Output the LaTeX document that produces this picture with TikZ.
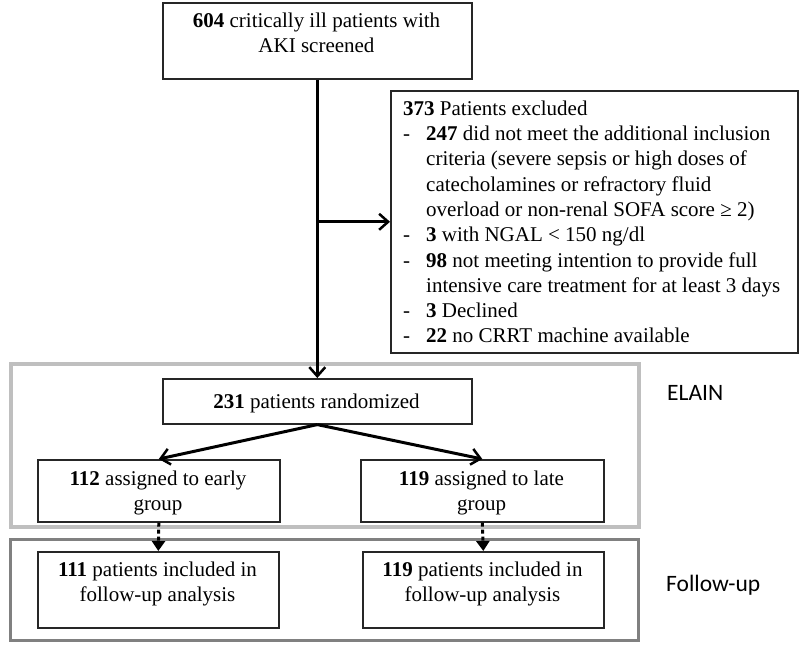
\documentclass[tikz,border=0pt]{standalone}
\usepackage{fontspec}
\setmainfont{Liberation Serif}
\newfontfamily\labelfont{Carlito}
\usetikzlibrary{arrows.meta}
\begin{document}
\begin{tikzpicture}[x=1pt,y=-1pt,
  box/.style={draw=black!85, line width=1.6pt, inner sep=0pt, anchor=north west},
  txt/.style={font=\fontsize{21}{25.2}\selectfont, align=center, inner sep=0pt, anchor=north},
  ltxt/.style={font=\fontsize{21}{25.3}\selectfont, align=left, inner sep=0pt, anchor=north west},
  lab/.style={font=\labelfont\fontsize{23.5}{28}\selectfont, inner sep=0pt, anchor=base west},
  grpA/.style={draw=black!25, line width=4pt, inner sep=0pt, anchor=north west},
  grpB/.style={draw=black!50, line width=3pt, inner sep=0pt, anchor=north west},
  flow/.style={line width=3pt, -{Straight Barb[length=9pt,width=16pt,line width=2.5pt]}},
  dflow/.style={line width=3pt, dash pattern=on 4pt off 3pt, -{Triangle[length=10pt,width=13pt]}}
]
\useasboundingbox[fill=white] (0,0) rectangle (800,650);

% group frames
\node[grpA, minimum width=628pt, minimum height=163pt] (elain) at (9,362) {};
\node[grpB, minimum width=628pt, minimum height=101pt] (follow) at (9,538) {};

% boxes
\node[box, minimum width=309pt, minimum height=76pt] (screen) at (162,2) {};
\node[box, minimum width=407pt, minimum height=262pt] (excl) at (390,90) {};
\node[box, minimum width=309pt, minimum height=45pt] (rand) at (162,378) {};
\node[box, minimum width=242pt, minimum height=62pt] (early) at (37,459) {};
\node[box, minimum width=243pt, minimum height=62pt] (late) at (360,459) {};
\node[box, minimum width=241pt, minimum height=76pt] (fearly) at (37,551) {};
\node[box, minimum width=241pt, minimum height=76pt] (flate) at (362,551) {};

% texts
\node[txt] (tscreen) at (316.5,12.5) {\textbf{604} critically ill patients with\\AKI screened};
\node[txt, anchor=base] (trand) at (316.5,408) {\textbf{231} patients randomized};
\node[txt] (tearly) at (158,470.5) {\textbf{112} assigned to early\\group};
\node[txt] (tlate) at (481.5,470.5) {\textbf{119} assigned to late\\group};
\node[txt] (tfearly) at (157.5,561.5) {\textbf{111} patients included in\\follow-up analysis};
\node[txt] (tflate) at (482.5,561.5) {\textbf{119} patients included in\\follow-up analysis};
\node[ltxt] (texcl) at (403,100.5) {%
\textbf{373} Patients excluded\\
\makebox[23pt][l]{-}\textbf{247} did not meet the additional inclusion\\
\hspace*{23pt}criteria (severe sepsis or high doses of\\
\hspace*{23pt}catecholamines or refractory fluid\\
\hspace*{23pt}overload or non-renal SOFA score ≥ 2)\\
\makebox[23pt][l]{-}\textbf{3} with NGAL < 150 ng/dl\\
\makebox[23pt][l]{-}\textbf{98} not meeting intention to provide full\\
\hspace*{23pt}intensive care treatment for at least 3 days\\
\makebox[23pt][l]{-}\textbf{3} Declined\\
\makebox[23pt][l]{-}\textbf{22} no CRRT machine available};

\node[lab] (lelain) at (667,400) {ELAIN};
\node[lab] (lfollow) at (666,591) {Follow-up};

% connectors
\draw[flow] (screen.south) -- (rand.north);
\coordinate (branch) at (screen.south |- excl.west);
\draw[flow] (branch) -- (excl.west);
\draw[flow] (rand.south) -- (early.north);
\draw[flow] (rand.south) -- (late.north);
\draw[dflow] (early.south) -- (fearly.north);
\draw[dflow] (late.south) -- (flate.north);
\end{tikzpicture}
\end{document}
